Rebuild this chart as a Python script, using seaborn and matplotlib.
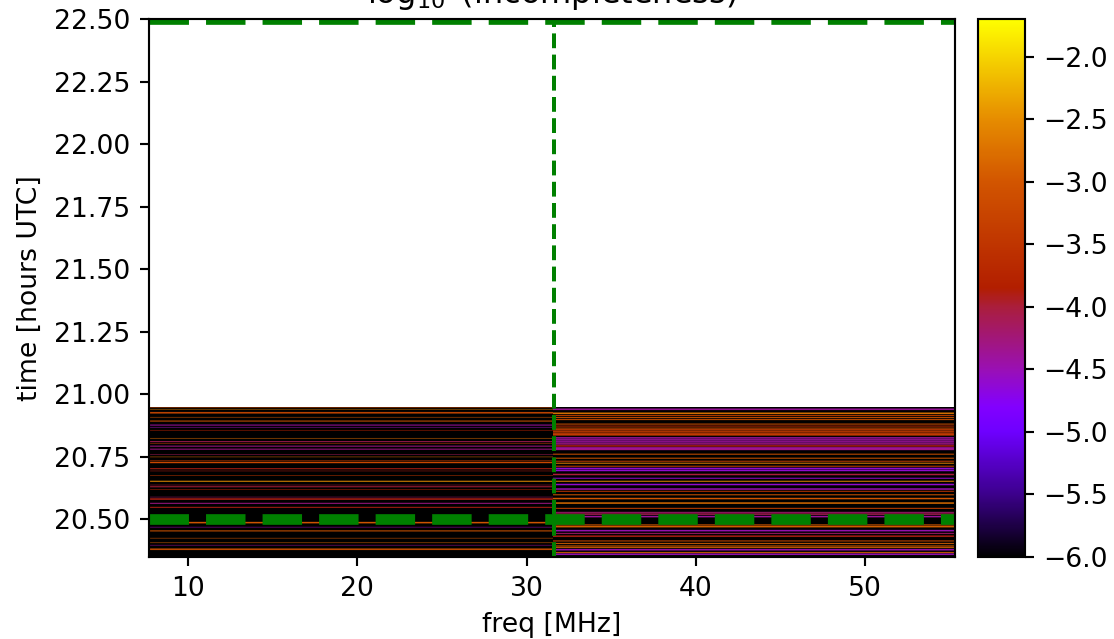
import numpy as np
import matplotlib
matplotlib.use("Agg")
import matplotlib.pyplot as plt
from matplotlib.colors import LinearSegmentedColormap
import seaborn as sns

# hours UTC of each non-floor integration, log10(incompleteness), and number of samples
left_times = [20.946,20.938,20.922,20.906,20.890,20.875,20.867,20.853,20.823,20.809,20.802,20.790,20.779,
              20.757,20.749,20.735,20.724,20.700,20.692,20.674,20.651,20.636,20.628,20.618,20.588,20.578,
              20.563,20.547,20.484,20.469,20.453,20.425,20.407,20.396,20.378]
left_vals = [-3.3,-2.6,-3.2,-3.0,-3.0,-4.4,-4.5,-3.8,-2.8,-4.1,-3.3,-4.3,-4.3,
             -4.1,-2.8,-3.4,-3.2,-3.9,-3.9,-3.5,-2.5,-4.0,-4.0,-3.7,-4.2,-3.9,
             -4.3,-3.9,-3.0,-4.5,-3.0,-3.0,-2.9,-4.4,-3.1]
left_rows = [2,1,3,1,2,2,1,1,1,2,1,2,2,
             1,1,1,3,2,1,1,2,1,2,1,1,3,
             2,2,3,1,2,1,1,1,3]

right_times = [20.936,20.920,20.912,20.904,20.896,20.879,20.871,20.863,20.853,20.846,20.839,20.834,20.823,
               20.815,20.807,20.799,20.790,20.783,20.777,20.759,20.743,20.730,20.722,20.710,20.700,20.692,
               20.676,20.663,20.650,20.636,20.619,20.610,20.596,20.580,20.563,20.543,20.527,20.519,20.509,
               20.477,20.468,20.452,20.443,20.430,20.412,20.402,20.393,20.385,20.376,20.366,20.358]
right_vals = [-4.4,-2.7,-3.3,-3.0,-3.1,-3.1,-3.7,-3.2,-3.4,-3.4,-3.4,-3.4,-4.4,
              -4.4,-4.4,-4.3,-3.9,-4.4,-4.3,-3.1,-3.0,-3.4,-2.6,-3.3,-4.6,-4.6,
              -4.0,-4.6,-2.6,-4.6,-4.5,-3.5,-3.0,-3.0,-2.8,-3.3,-4.2,-4.1,-4.4,
              -3.0,-2.9,-4.5,-4.2,-3.9,-3.2,-2.9,-2.9,-2.9,-4.5,-2.9,-4.5]
right_rows = [3,3,2,2,2,2,2,2,3,3,3,3,3,
              3,3,3,3,3,3,2,2,2,2,2,3,3,
              3,2,2,3,3,2,2,3,3,2,2,3,3,
              2,3,3,2,3,2,2,2,2,3,2,3]

t_start = 20.35
t_end = 22.50
t_data_top = 20.948
dt = 0.002
f_min, f_split, f_max = 7.70, 31.57, 55.30
floor_val = -6.0
top_val = -1.7

cmap_vals = [-6.0, -5.5, -5.0, -4.8, -4.5, -4.0, -3.85, -3.0, -2.5, -1.7]
cmap_cols = ["#000000", "#3c008c", "#6e00ff", "#8200ff", "#9a10b4", "#aa1e3c", "#b21e00", "#d25500", "#e68c00", "#ffff00"]

x_ticks = [10, 20, 30, 40, 50]
y_ticks = [20.50, 20.75, 21.00, 21.25, 21.50, 21.75, 22.00, 22.25, 22.50]
c_ticks = [-2.0, -2.5, -3.0, -3.5, -4.0, -4.5, -5.0, -5.5, -6.0]

n_rows = int(round((t_data_top - t_start) / dt))
grid = np.full((n_rows, 2), floor_val)
for col, (times, vals, rows) in enumerate([(left_times, left_vals, left_rows),
                                           (right_times, right_vals, right_rows)]):
    for t, v, r in zip(times, vals, rows):
        i = int(round((t - t_start) / dt))
        for k in range(r):
            if 0 <= i + k < n_rows:
                grid[i + k, col] = v

cmap = LinearSegmentedColormap.from_list(
    "incomp", [((v - floor_val) / (top_val - floor_val), c) for v, c in zip(cmap_vals, cmap_cols)], N=512)

W, H = 1114, 639
fig = plt.figure(figsize=(W / 192, H / 192), dpi=192)
ax = fig.add_axes([149 / W, 1 - 557 / H, (955 - 149) / W, (557 - 19) / H])
cax = fig.add_axes([978 / W, 1 - 557 / H, (1025 - 978) / W, (557 - 19) / H])

sns.heatmap(np.full((1, 2), floor_val), ax=ax, cmap=cmap, vmin=floor_val, vmax=top_val, cbar=True,
            cbar_ax=cax, cbar_kws={"ticks": c_ticks}, xticklabels=False, yticklabels=False)

fx = lambda f: (np.asarray(f) - f_min) / (f_split - f_min)
fy = lambda t: (np.asarray(t) - t_start) / (t_data_top - t_start)

# one image column per screen pixel so the frequency split stays sharp
n_left = 404
n_right = 402
wide = np.concatenate([np.repeat(grid[:, :1], n_left, axis=1),
                       np.repeat(grid[:, 1:], n_right, axis=1)], axis=1)
ax.imshow(wide, origin="lower", aspect="auto", extent=(0, fx(f_max), 0, 1), cmap=cmap, zorder=1.5,
          vmin=floor_val, vmax=top_val, interpolation="hanning", interpolation_stage="rgba")

ax.set_xlim(0, fx(f_max))
ax.set_ylim(0, fy(t_end))
ax.set_xticks(fx(x_ticks))
ax.set_xticklabels([str(v) for v in x_ticks], rotation=0)
ax.set_yticks(fy(y_ticks))
ax.set_yticklabels([f"{v:.2f}" for v in y_ticks], rotation=0)
ax.tick_params(length=3.5, width=0.8, labelsize=10)
for s in ax.spines.values():
    s.set_visible(True)
    s.set_linewidth(0.8)
    s.set_color("black")

ax.plot([0, fx(f_max)], [fy(20.5)] * 2, color="green", lw=4, ls="--", dash_capstyle="butt")
ax.plot([0, fx(f_max)], [fy(22.5)] * 2, color="green", lw=4, ls="--", dash_capstyle="butt")
ax.plot([fx(31.6)] * 2, [0, fy(t_end)], color="green", lw=1.5, ls="--", dash_capstyle="butt")

ax.set_xlabel("freq [MHz]", fontsize=10)
ax.set_ylabel("time [hours UTC]", fontsize=10)
ax.set_title(r"$\log_{10}$ (incompleteness)", fontsize=12)

cb = ax.collections[0].colorbar
cb.outline.set_visible(True)
cb.outline.set_linewidth(0.8)
cb.outline.set_edgecolor("black")
cax.tick_params(length=3.5, width=0.8, labelsize=10)

fig.savefig("out.png", dpi=192)
